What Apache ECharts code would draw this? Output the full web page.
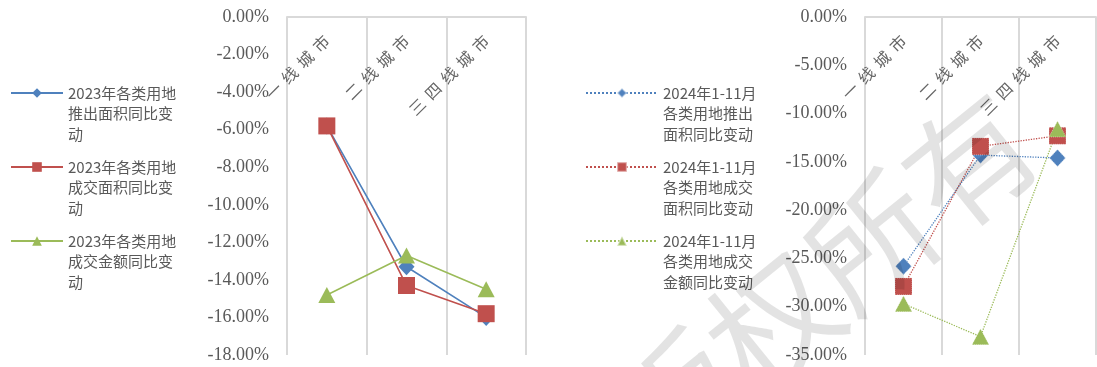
<!DOCTYPE html>
<html>
<head>
<meta charset="utf-8">
<title>各类用地同比变动</title>
<script src="https://cdn.jsdelivr.net/npm/echarts@6/dist/echarts.min.js"></script>
<style>
  html, body { margin: 0; padding: 0; background: #ffffff; }
  #chart { width: 1097px; height: 367px; }
</style>
</head>
<body>
<div id="chart"></div>
<script>
// City tiers on the category axis
const cities = ['一线城市', '二线城市', '三四线城市'];

// 2023 full year, year-on-year change (%)
const names2023 = ['2023年各类用地推出面积同比变动', '2023年各类用地成交面积同比变动', '2023年各类用地成交金额同比变动'];
const legendText2023 = ['2023年各类用地\n推出面积同比变\n动', '2023年各类用地\n成交面积同比变\n动', '2023年各类用地\n成交金额同比变\n动'];
const supply2023 = [-5.8, -13.3, -16.0];
const dealArea2023 = [-5.8, -14.3, -15.8];
const dealAmount2023 = [-14.8, -12.7, -14.5];

// 2024 Jan-Nov, year-on-year change (%)
const names2024 = ['2024年1-11月各类用地推出面积同比变动', '2024年1-11月各类用地成交面积同比变动', '2024年1-11月各类用地成交金额同比变动'];
const legendText2024 = ['2024年1-11月\n各类用地推出\n面积同比变动', '2024年1-11月\n各类用地成交\n面积同比变动', '2024年1-11月\n各类用地成交\n金额同比变动'];
const supply2024 = [-25.8, -14.3, -14.6];
const dealArea2024 = [-27.9, -13.4, -12.3];
const dealAmount2024 = [-29.7, -33.1, -11.6];

// Value-axis ranges: [min, max, interval]
const yRange2023 = [-18, 0, 2];
const yRange2024 = [-35, 0, 5];

const watermarkText = '版权所有';

const COLORS = ['#4F81BD', '#C0504D', '#9BBB59'];
const SYMBOLS = [['diamond', [16, 17]], ['rect', [17, 17]], ['triangle', [17, 16]]];
const GRID_LINE = '#d9d9d9';
const TEXT_GRAY = '#595959';
const CJK = '"Noto Sans CJK SC", "Noto Sans", sans-serif';

function spaced(v) {
  return v.split('').join('\u2004\u200A');
}

function xAxisFor(gridIndex) {
  return {
    type: 'category',
    gridIndex: gridIndex,
    data: cities,
    position: 'top',
    boundaryGap: true,
    axisLine: { show: true, onZero: false, lineStyle: { color: GRID_LINE, width: 2 } },
    axisTick: { show: false },
    splitLine: { show: true, interval: 0, lineStyle: { color: GRID_LINE, width: 2 } },
    axisLabel: {
      inside: true,
      rotate: -45,
      margin: 21,
      interval: 0,
      color: '#666666',
      fontFamily: CJK,
      fontSize: 16,
      formatter: spaced
    }
  };
}

function yAxisFor(gridIndex, range) {
  return {
    type: 'value',
    gridIndex: gridIndex,
    min: range[0],
    max: range[1],
    interval: range[2],
    axisLine: { show: false },
    axisTick: { show: false },
    splitLine: { show: false },
    axisLabel: {
      margin: 18,
      color: TEXT_GRAY,
      fontFamily: '"Liberation Serif", "Times New Roman", serif',
      fontSize: 18,
      formatter: v => v.toFixed(2) + '%'
    }
  };
}

function lineSeries(name, values, i, axisIndex, dotted) {
  const s = {
    name: name,
    type: 'line',
    xAxisIndex: axisIndex,
    yAxisIndex: axisIndex,
    data: values,
    symbol: SYMBOLS[i][0],
    symbolSize: SYMBOLS[i][1],
    showAllSymbol: true,
    animation: false,
    lineStyle: { color: COLORS[i], width: dotted ? 1.3 : 1.6, type: dotted ? 'dotted' : 'solid' },
    itemStyle: { color: COLORS[i] }
  };
  if (dotted) {
    s.itemStyle.borderColor = 'rgba(255,255,255,0.45)';
    s.itemStyle.borderWidth = 1;
    s.itemStyle.borderType = 'dotted';
  }
  return s;
}

// Two blank lines in front keep the first text line level with the legend icon
function legendFor(names, texts, left, itemWidth) {
  return {
    orient: 'vertical',
    left: left,
    top: 41.75,
    padding: 0,
    itemWidth: itemWidth,
    itemHeight: 12,
    itemGap: -28.5,
    selectedMode: false,
    data: names,
    formatter: n => '\n\n' + texts[names.indexOf(n)],
    textStyle: {
      color: TEXT_GRAY,
      fontFamily: CJK,
      fontSize: 15,
      lineHeight: 20.5
    }
  };
}

const chart = echarts.init(document.getElementById('chart'), null, { renderer: 'canvas' });

chart.setOption({
  backgroundColor: '#ffffff',
  animation: false,
  grid: [
    { left: 287, top: 17, width: 239, height: 338 },
    { left: 865, top: 17, width: 231, height: 338 }
  ],
  legend: [
    legendFor(names2023, legendText2023, 10, 52),
    legendFor(names2024, legendText2024, 585, 72)
  ],
  xAxis: [xAxisFor(0), xAxisFor(1)],
  yAxis: [yAxisFor(0, yRange2023), yAxisFor(1, yRange2024)],
  series: [
    lineSeries(names2023[0], supply2023, 0, 0, false),
    lineSeries(names2023[1], dealArea2023, 1, 0, false),
    lineSeries(names2023[2], dealAmount2023, 2, 0, false),
    lineSeries(names2024[0], supply2024, 0, 1, true),
    lineSeries(names2024[1], dealArea2024, 1, 1, true),
    lineSeries(names2024[2], dealAmount2024, 2, 1, true)
  ],
  graphic: [{
    type: 'text',
    x: 822,
    y: 281,
    rotation: 39 * Math.PI / 180,
    silent: true,
    z: 100,
    style: {
      text: watermarkText,
      fontFamily: CJK,
      fontSize: 127,
      fill: 'rgba(0,0,0,0.11)',
      align: 'center',
      verticalAlign: 'middle'
    }
  }]
});
</script>
</body>
</html>
